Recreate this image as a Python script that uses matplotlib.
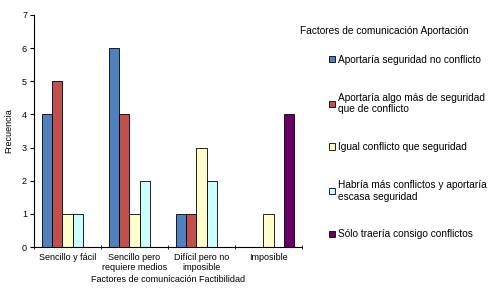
import matplotlib.pyplot as plt
import numpy as np

plt.rcParams['font.family'] = ['Liberation Sans', 'DejaVu Sans']

categorias = ["Sencillo y fácil", "Sencillo pero\nrequiere medios",
              "Difícil pero no\nimposible", "Imposible"]
series = ["Aportaría seguridad no conflicto",
          "Aportaría algo más de seguridad\nque de conflicto",
          "Igual conflicto que seguridad",
          "Habría más conflictos y aportaría\nescasa seguridad",
          "Sólo traería consigo conflictos"]
valores = [
    [4, 6, 1, 0],
    [5, 4, 1, 0],
    [1, 1, 3, 1],
    [1, 2, 2, 0],
    [0, 0, 0, 4],
]
colores = ["#4F81BD", "#C0504D", "#FFFFCC", "#CCFFFF", "#660066"]

fig = plt.figure(figsize=(5, 2.98), dpi=100)
ax = fig.add_axes([0.068, 0.171, 0.536, 0.779])

x = np.arange(len(categorias))
ancho = 0.15
for i, (s, v, c) in enumerate(zip(series, valores, colores)):
    ax.bar(x + (i - 2) * ancho, v, ancho, color=c, edgecolor="black",
           linewidth=0.6, label=s)

ax.set_xlim(-0.5, 3.5)
ax.set_ylim(0, 7)
ax.set_yticks(range(8))
ax.set_xticks(x)
ax.set_xticklabels(categorias, fontsize=6.5)
ax.set_xticks(np.arange(-0.5, 4, 1), minor=True)
ax.tick_params(axis="x", which="major", length=0, pad=4)
ax.tick_params(axis="x", which="minor", length=3, direction="inout")
ax.tick_params(axis="y", labelsize=6.5, length=3, pad=2)
for sp in ["top", "right"]:
    ax.spines[sp].set_visible(False)
ax.set_xlabel("Factores de comunicación Factibilidad", fontsize=6.5, labelpad=2)
ax.set_ylabel("Frecuencia", fontsize=6.5, labelpad=6)

fig.text(0.600, 0.897, "Factores de comunicación Aportación", fontsize=7.3,
         va="center")
ax.legend(loc="upper left", bbox_to_anchor=(0.65, 0.83),
          bbox_transform=fig.transFigure, frameon=False, fontsize=7.3,
          handlelength=0.6, handleheight=0.6, handletextpad=0.3,
          labelspacing=2.75, borderaxespad=0)

fig.savefig("out.png", dpi=100)
